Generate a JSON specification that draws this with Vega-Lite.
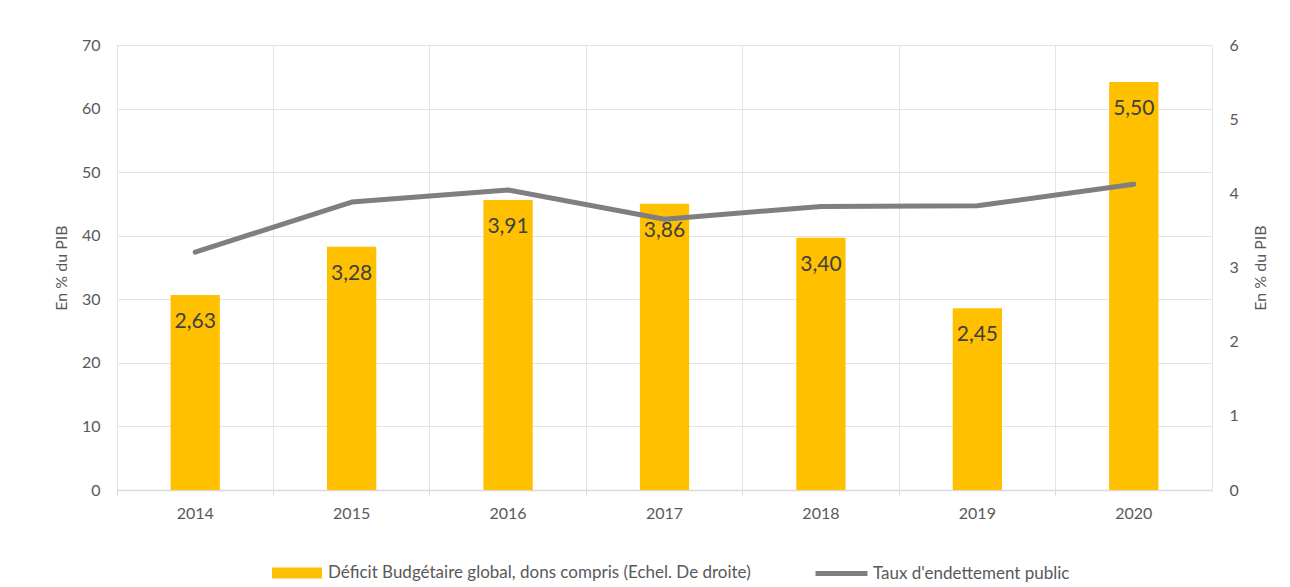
{
  "$schema": "https://vega.github.io/schema/vega-lite/v6.json",
  "width": 1095,
  "height": 445,
  "autosize": {"type": "none"},
  "padding": {"left": 117, "top": 45, "right": 78, "bottom": 97},
  "background": "white",
  "config": {
    "font": "Lato",
    "view": {"stroke": "#e4e4e4"},
    "locale": {"number": {"decimal": ",", "thousands": " ", "grouping": [3], "currency": ["", " €"]}}
  },
  "data": {
    "values": [
      {"annee": "2014", "deficit": 2.63, "dette": 37.4},
      {"annee": "2015", "deficit": 3.28, "dette": 45.3},
      {"annee": "2016", "deficit": 3.91, "dette": 47.2},
      {"annee": "2017", "deficit": 3.86, "dette": 42.6},
      {"annee": "2018", "deficit": 3.40, "dette": 44.6},
      {"annee": "2019", "deficit": 2.45, "dette": 44.7},
      {"annee": "2020", "deficit": 5.50, "dette": 48.1}
    ]
  },
  "encoding": {
    "x": {
      "field": "annee",
      "type": "ordinal",
      "scale": {"paddingInner": 0, "paddingOuter": 0},
      "axis": {
        "title": null,
        "bandPosition": 0,
        "labelAngle": 0,
        "grid": true,
        "gridColor": "#e4e4e4",
        "tickColor": "#d9d9d9",
        "tickSize": 5,
        "domainColor": "#d9d9d9",
        "domainWidth": 1.5,
        "labelColor": "#595959",
        "labelFontSize": 16,
        "labelPadding": 10,
        "labelBound": false
      }
    }
  },
  "layer": [
    {
      "encoding": {
        "y": {
          "field": "deficit",
          "type": "quantitative",
          "scale": {"domain": [0, 6]},
          "axis": {
            "orient": "right",
            "values": [0, 1, 2, 3, 4, 5, 6],
            "grid": false,
            "ticks": false,
            "domain": false,
            "labelPadding": 17,
            "labelFontSize": 16,
            "labelColor": "#595959",
            "title": "En % du PIB",
            "titleAngle": 270,
            "titleBaseline": "bottom",
            "titleFontSize": 16,
            "titleFontWeight": "normal",
            "titleColor": "#595959",
            "titlePadding": 30
          }
        }
      },
      "layer": [
        {
          "mark": {"type": "bar", "width": {"band": 0.315}},
          "encoding": {
            "fill": {
              "datum": "Déficit Budgétaire global, dons compris (Echel. De droite)",
              "type": "nominal",
              "scale": {"range": ["#ffc000"]},
              "legend": {
                "title": null,
                "orient": "none",
                "legendX": 155,
                "legendY": 503,
                "padding": 0,
                "symbolType": "M-1,-0.22H1V0.22H-1Z",
                "symbolSize": 2500,
                "symbolStrokeWidth": 0,
                "symbolOpacity": 1,
                "labelFontSize": 17,
                "labelColor": "#595959",
                "labelOffset": 6,
                "labelLimit": 600
              }
            }
          }
        },
        {
          "mark": {"type": "text", "baseline": "middle", "dy": 27, "fontSize": 21, "color": "#404040"},
          "encoding": {
            "text": {"field": "deficit", "type": "quantitative", "format": ".2f"}
          }
        }
      ]
    },
    {
      "mark": {"type": "line", "strokeWidth": 5, "strokeCap": "round", "strokeJoin": "round"},
      "encoding": {
        "y": {
          "field": "dette",
          "type": "quantitative",
          "scale": {"domain": [0, 70]},
          "axis": {
            "orient": "left",
            "values": [0, 10, 20, 30, 40, 50, 60, 70],
            "grid": true,
            "gridColor": "#e4e4e4",
            "ticks": false,
            "domain": false,
            "labelPadding": 17,
            "labelFontSize": 16,
            "labelColor": "#595959",
            "title": "En % du PIB",
            "titleFontSize": 16,
            "titleFontWeight": "normal",
            "titleColor": "#595959",
            "titlePadding": 12
          }
        },
        "stroke": {
          "datum": "Taux d'endettement public",
          "type": "nominal",
          "scale": {"range": ["#7f7f7f"]},
          "legend": {
            "title": null,
            "orient": "none",
            "legendX": 696,
            "legendY": 500,
            "padding": 0,
            "symbolType": "stroke",
            "symbolSize": 2700,
            "symbolStrokeWidth": 5,
            "labelFontSize": 17,
            "labelColor": "#595959",
            "labelOffset": 3,
            "labelLimit": 400
          }
        }
      }
    }
  ],
  "resolve": {"scale": {"y": "independent", "fill": "independent", "stroke": "independent"}}
}
